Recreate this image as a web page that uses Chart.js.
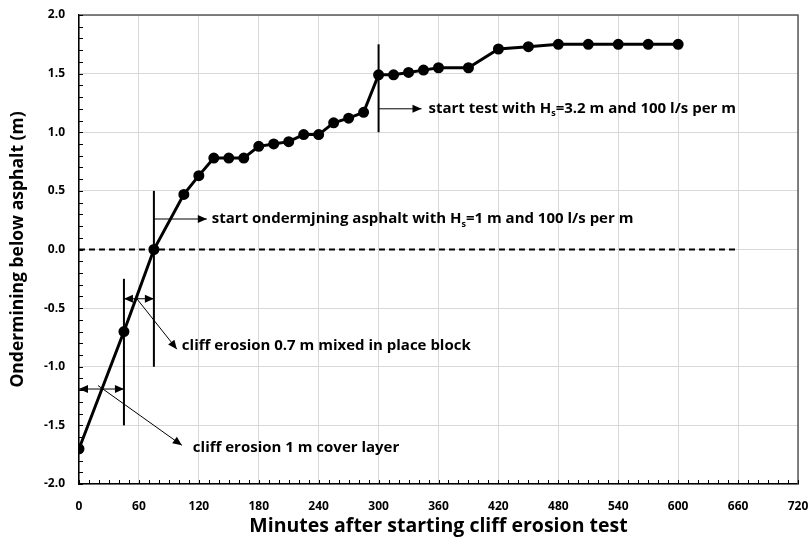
<!DOCTYPE html>
<html>
<head>
<meta charset="utf-8">
<script src="https://cdn.jsdelivr.net/npm/chart.js@4.4.1/dist/chart.umd.min.js"></script>
<style>
  html, body { margin: 0; padding: 0; background: #fff; }
  canvas { display: block; }
</style>
</head>
<body>
<canvas id="chart" width="808" height="546"></canvas>
<script>
// measured undermining below the asphalt
const minutes = [0, 45, 75, 105, 120, 135, 150, 165, 180, 195, 210, 225, 240, 255, 270, 285,
  300, 315, 330, 345, 360, 390, 420, 450, 480, 510, 540, 570, 600]
const undermining = [-1.7, -0.7, 0.0, 0.47, 0.63, 0.78, 0.78, 0.78, 0.88, 0.9, 0.92, 0.98, 0.98, 1.08, 1.12, 1.17,
  1.49, 1.49, 1.51, 1.53, 1.55, 1.55, 1.71, 1.73, 1.75, 1.75, 1.75, 1.75, 1.75]

const zeroLineX = [0, 660]
const zeroLineY = [0, 0]

const xRange = [0, 720]
const yRange = [-2, 2]
const xStep = 60
const yStep = 0.5
const xMinorStep = 10
const yMinorStep = 0.1

// annotations, in data units
const markerLines = [
  { x: 300, from: 1.0, to: 1.75 },
  { x: 75, from: -1.0, to: 0.5 },
  { x: 45, from: -1.5, to: -0.25 }
]
const arrows = [
  { x1: 300, y1: 1.2, x2: 343, y2: 1.2, both: false },
  { x1: 75, y1: 0.26, x2: 128, y2: 0.26, both: false },
  { x1: 45, y1: -0.42, x2: 75, y2: -0.42, both: true },
  { x1: 0, y1: -1.19, x2: 45, y2: -1.19, both: true },
  { x1: 57, y1: -0.41, x2: 98, y2: -0.85, both: false },
  { x1: 19, y1: -1.16, x2: 103, y2: -1.67, both: false }
]
const notes = [
  { x: 350, y: 1.2, parts: ['start test with H', '_s', '=3.2 m and 100 l/s per m'] },
  { x: 133, y: 0.26, parts: ['start ondermjning asphalt with H', '_s', '=1 m and 100 l/s per m'] },
  { x: 103, y: -0.82, parts: ['cliff erosion 0.7 m mixed in place block'] },
  { x: 114, y: -1.69, parts: ['cliff erosion 1 m cover layer'] }
]

const fontFamily = '"Open Sans", sans-serif'

function drawArrowHead(ctx, fx, fy, tx, ty) {
  const ang = Math.atan2(ty - fy, tx - fx)
  const len = 9, half = 4
  ctx.beginPath()
  ctx.moveTo(tx, ty)
  ctx.lineTo(tx - len * Math.cos(ang) + half * Math.sin(ang), ty - len * Math.sin(ang) - half * Math.cos(ang))
  ctx.lineTo(tx - len * Math.cos(ang) - half * Math.sin(ang), ty - len * Math.sin(ang) + half * Math.cos(ang))
  ctx.closePath()
  ctx.fill()
}

const overlay = {
  id: 'overlay',
  beforeDatasetsDraw(chart) {
    const { ctx, chartArea: a, scales: { x, y } } = chart
    ctx.save()
    // frame top / right
    ctx.strokeStyle = '#595959'
    ctx.lineWidth = 1.5
    ctx.beginPath()
    ctx.moveTo(a.left, a.top)
    ctx.lineTo(a.right, a.top)
    ctx.lineTo(a.right, a.bottom)
    ctx.stroke()
    // minor ticks inside the axes
    ctx.strokeStyle = '#000'
    ctx.lineWidth = 1
    ctx.beginPath()
    for (let v = xRange[0]; v <= xRange[1] + 0.01; v += xMinorStep) {
      const px = Math.round(x.getPixelForValue(v)) + 0.5
      ctx.moveTo(px, a.bottom)
      ctx.lineTo(px, a.bottom - 4)
    }
    for (let i = 0; i <= Math.round((yRange[1] - yRange[0]) / yMinorStep); i++) {
      const py = Math.round(y.getPixelForValue(yRange[0] + i * yMinorStep)) + 0.5
      ctx.moveTo(a.left, py)
      ctx.lineTo(a.left + 4, py)
    }
    ctx.stroke()
    ctx.restore()
  },
  afterDatasetsDraw(chart) {
    const { ctx, scales: { x, y } } = chart
    ctx.save()
    ctx.strokeStyle = '#000'
    ctx.fillStyle = '#000'
    ctx.lineWidth = 2
    markerLines.forEach(m => {
      const px = x.getPixelForValue(m.x)
      ctx.beginPath()
      ctx.moveTo(px, y.getPixelForValue(m.from))
      ctx.lineTo(px, y.getPixelForValue(m.to))
      ctx.stroke()
    })
    ctx.lineWidth = 1
    arrows.forEach(ar => {
      const x1 = x.getPixelForValue(ar.x1), y1 = y.getPixelForValue(ar.y1)
      const x2 = x.getPixelForValue(ar.x2), y2 = y.getPixelForValue(ar.y2)
      ctx.beginPath()
      ctx.moveTo(x1, y1)
      ctx.lineTo(x2, y2)
      ctx.stroke()
      drawArrowHead(ctx, x1, y1, x2, y2)
      if (ar.both) drawArrowHead(ctx, x2, y2, x1, y1)
    })
    ctx.textBaseline = 'middle'
    ctx.textAlign = 'left'
    notes.forEach(n => {
      let px = x.getPixelForValue(n.x)
      const py = y.getPixelForValue(n.y)
      n.parts.forEach(p => {
        if (p.startsWith('_')) {
          ctx.font = 'bold 9px ' + fontFamily
          const t = p.slice(1)
          ctx.fillText(t, px, py + 5)
          px += ctx.measureText(t).width
        } else {
          ctx.font = 'bold 15px ' + fontFamily
          ctx.fillText(p, px, py)
          px += ctx.measureText(p).width
        }
      })
    })
    ctx.restore()
  }
}

new Chart(document.getElementById('chart'), {
  type: 'line',
  data: {
    datasets: [
      {
        data: zeroLineX.map((v, i) => ({ x: v, y: zeroLineY[i] })),
        borderColor: '#000',
        borderWidth: 1.8,
        borderDash: [6, 4],
        pointRadius: 0
      },
      {
        data: minutes.map((m, i) => ({ x: m, y: undermining[i] })),
        borderColor: '#000',
        backgroundColor: '#000',
        borderWidth: 3,
        pointRadius: 4,
        pointBackgroundColor: '#000',
        pointBorderColor: '#000',
        tension: 0
      }
    ]
  },
  options: {
    responsive: false,
    animation: false,
    layout: { padding: { top: 15, right: 10, left: 0, bottom: 0 } },
    plugins: { legend: { display: false }, tooltip: { enabled: false } },
    scales: {
      x: {
        type: 'linear',
        min: xRange[0],
        max: xRange[1],
        afterFit: s => { s.height = 62; s.paddingRight = 0; s.paddingLeft = 0 },
        ticks: {
          stepSize: xStep,
          color: '#000',
          padding: 15,
          maxRotation: 0,
          font: { family: fontFamily, size: 12, weight: 'bold' }
        },
        grid: { color: '#d9d9d9', drawTicks: false },
        border: { color: '#000', width: 1.5 },
        title: {
          display: true,
          text: 'Minutes after starting cliff erosion test',
          color: '#000',
          padding: { top: 0, bottom: 8 },
          font: { family: fontFamily, size: 19.5, weight: 'bold' }
        }
      },
      y: {
        min: yRange[0],
        max: yRange[1],
        afterFit: s => { s.width = 79; s.paddingTop = 0; s.paddingBottom = 0 },
        ticks: {
          stepSize: yStep,
          color: '#000',
          padding: 14,
          callback: v => v.toFixed(1),
          font: { family: fontFamily, size: 12, weight: 'bold' }
        },
        grid: { color: '#d9d9d9', drawTicks: false },
        border: { color: '#000', width: 1.5 },
        title: {
          display: true,
          text: 'Ondermining below asphalt (m)',
          color: '#000',
          padding: { top: 8, bottom: 0 },
          font: { family: fontFamily, size: 17.5, weight: 'bold' }
        }
      }
    }
  },
  plugins: [overlay]
})
</script>
</body>
</html>
